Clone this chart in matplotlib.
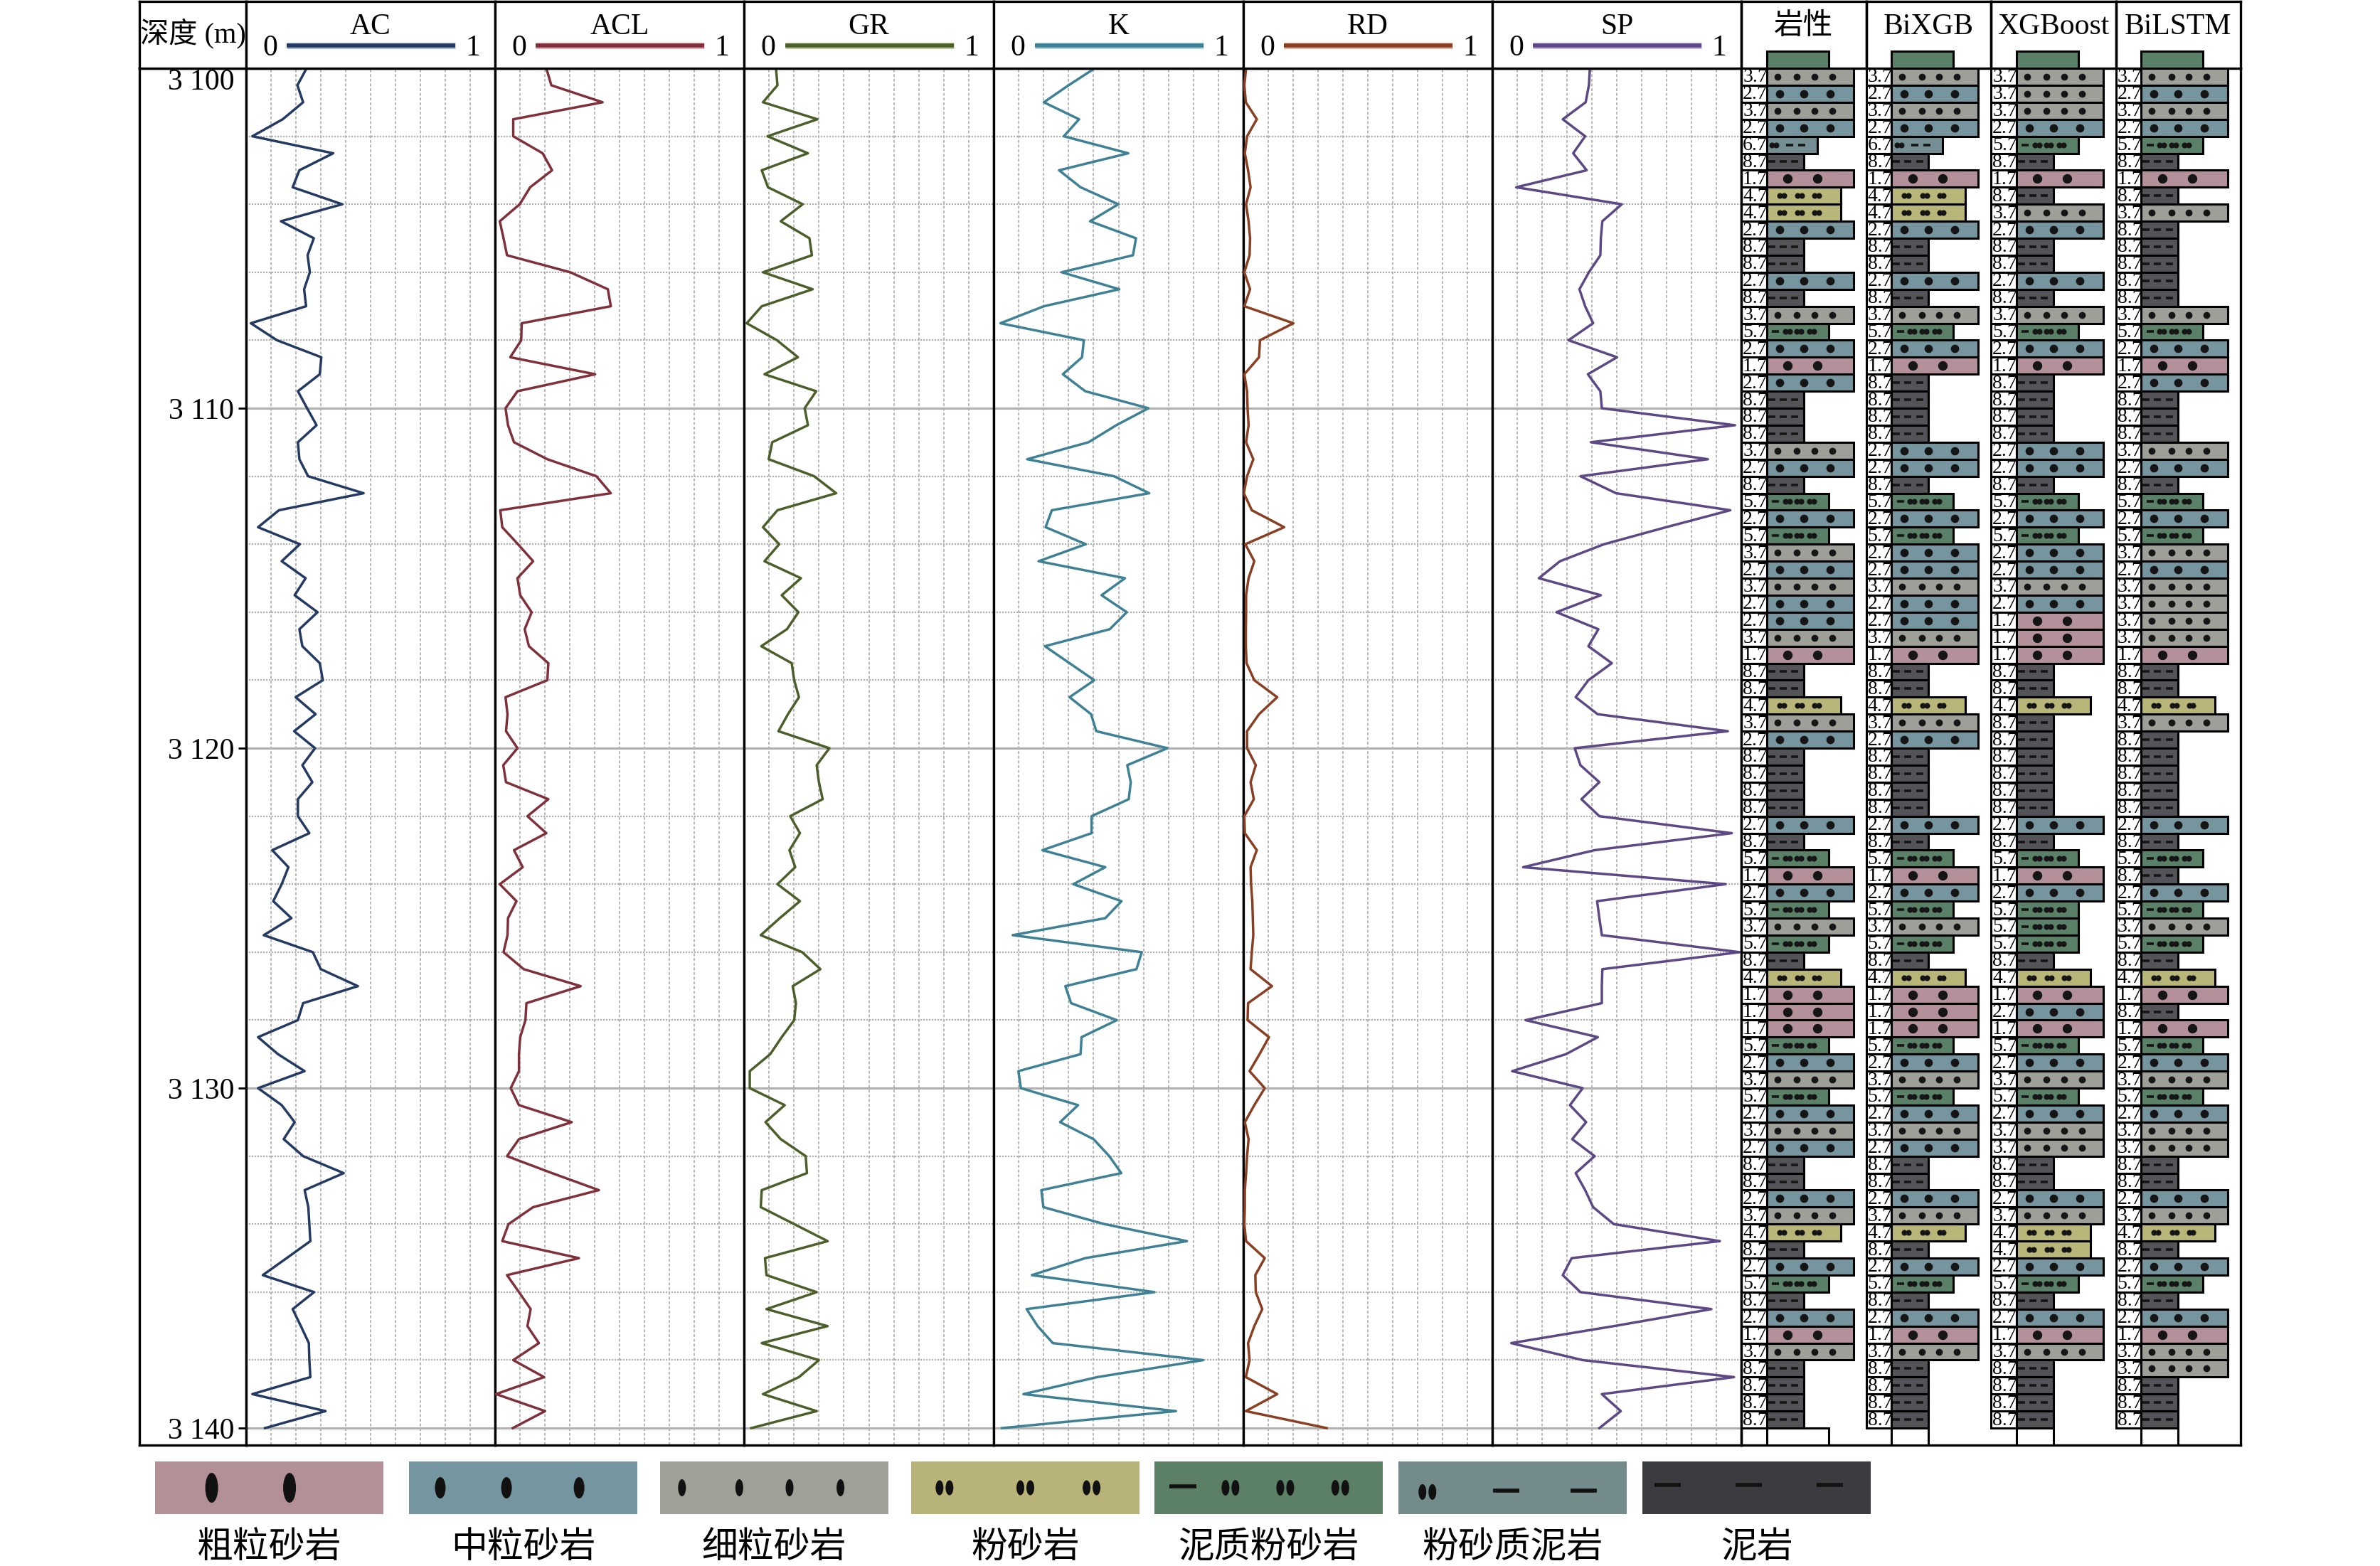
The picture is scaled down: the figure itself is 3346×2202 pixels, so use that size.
import numpy as np
import matplotlib.pyplot as plt
from matplotlib.patches import Rectangle, Ellipse
import matplotlib.patheffects as pe

plt.rcParams['font.family'] = ['Liberation Serif', 'Noto Sans CJK SC']

# log samples, every 0.5 m
depth = np.arange(3100.0, 3140.01, 0.5)

ac = [0.243, 0.206, 0.229, 0.147, 0.025, 0.350, 0.214, 0.187, 0.386, 0.140,
      0.272, 0.247, 0.256, 0.233, 0.241, 0.019, 0.124, 0.302, 0.296, 0.208,
      0.245, 0.283, 0.208, 0.214, 0.249, 0.472, 0.132, 0.048, 0.216, 0.143,
      0.239, 0.195, 0.287, 0.214, 0.226, 0.296, 0.308, 0.199, 0.279, 0.193,
      0.277, 0.226, 0.266, 0.208, 0.208, 0.254, 0.105, 0.170, 0.143, 0.109,
      0.182, 0.071, 0.268, 0.300, 0.449, 0.229, 0.208, 0.048, 0.128, 0.235,
      0.048, 0.143, 0.195, 0.151, 0.229, 0.392, 0.235, 0.250, 0.254, 0.258,
      0.163, 0.067, 0.273, 0.187, 0.220, 0.252, 0.254, 0.258, 0.025, 0.319,
      0.076]
acl = [0.206, 0.226, 0.432, 0.073, 0.073, 0.191, 0.229, 0.141, 0.099, 0.019,
       0.034, 0.048, 0.302, 0.453, 0.465, 0.107, 0.105, 0.061, 0.402, 0.090,
       0.042, 0.052, 0.076, 0.210, 0.407, 0.465, 0.021, 0.029, 0.092, 0.153,
       0.090, 0.101, 0.147, 0.119, 0.136, 0.214, 0.210, 0.042, 0.050, 0.044,
       0.090, 0.033, 0.044, 0.214, 0.130, 0.206, 0.076, 0.111, 0.019, 0.086,
       0.052, 0.050, 0.034, 0.115, 0.344, 0.126, 0.122, 0.101, 0.096, 0.096,
       0.063, 0.096, 0.308, 0.096, 0.048, 0.229, 0.417, 0.153, 0.054, 0.029,
       0.337, 0.048, 0.096, 0.143, 0.130, 0.176, 0.073, 0.197, 0.004, 0.201,
       0.071]
gr = [0.128, 0.134, 0.076, 0.294, 0.094, 0.256, 0.071, 0.096, 0.235, 0.147,
      0.262, 0.272, 0.076, 0.275, 0.071, 0.011, 0.132, 0.216, 0.082, 0.289,
      0.243, 0.256, 0.113, 0.099, 0.281, 0.369, 0.134, 0.076, 0.141, 0.082,
      0.228, 0.151, 0.218, 0.172, 0.069, 0.191, 0.201, 0.220, 0.176, 0.138,
      0.342, 0.291, 0.300, 0.315, 0.185, 0.224, 0.182, 0.205, 0.134, 0.224,
      0.143, 0.067, 0.233, 0.306, 0.195, 0.208, 0.201, 0.151, 0.105, 0.023,
      0.023, 0.163, 0.086, 0.147, 0.247, 0.252, 0.071, 0.067, 0.201, 0.335,
      0.084, 0.090, 0.291, 0.090, 0.335, 0.071, 0.300, 0.220, 0.076, 0.291,
      0.029]
k_log = [0.405, 0.300, 0.201, 0.342, 0.281, 0.539, 0.262, 0.348, 0.499, 0.386,
         0.570, 0.558, 0.272, 0.503, 0.201, 0.027, 0.361, 0.354, 0.277, 0.367,
         0.620, 0.491, 0.380, 0.134, 0.482, 0.623, 0.233, 0.208, 0.369, 0.180,
         0.526, 0.432, 0.533, 0.465, 0.205, 0.304, 0.403, 0.304, 0.390, 0.411,
         0.696, 0.535, 0.549, 0.541, 0.392, 0.392, 0.195, 0.447, 0.319, 0.512,
         0.447, 0.076, 0.593, 0.572, 0.287, 0.310, 0.493, 0.352, 0.348, 0.099,
         0.109, 0.338, 0.266, 0.400, 0.463, 0.511, 0.191, 0.199, 0.444, 0.774,
         0.367, 0.153, 0.644, 0.132, 0.176, 0.237, 0.839, 0.415, 0.119, 0.730,
         0.033]
rd = [0.011, 0.004, 0.010, 0.054, 0.015, 0.006, 0.019, 0.029, 0.011, 0.021,
      0.027, 0.025, 0.004, 0.027, 0.004, 0.201, 0.067, 0.063, 0.004, 0.015,
      0.017, 0.021, 0.011, 0.040, 0.015, 0.002, 0.034, 0.164, 0.008, 0.044,
      0.021, 0.011, 0.011, 0.010, 0.010, 0.013, 0.044, 0.136, 0.063, 0.015,
      0.015, 0.050, 0.029, 0.042, 0.004, 0.006, 0.054, 0.029, 0.031, 0.036,
      0.038, 0.040, 0.034, 0.029, 0.115, 0.019, 0.017, 0.103, 0.065, 0.025,
      0.086, 0.044, 0.006, 0.021, 0.015, 0.011, 0.006, 0.006, 0.004, 0.011,
      0.086, 0.048, 0.050, 0.076, 0.044, 0.019, 0.025, 0.010, 0.136, 0.010,
      0.335]
sp = [0.392, 0.388, 0.375, 0.283, 0.373, 0.325, 0.379, 0.096, 0.520, 0.442,
      0.436, 0.434, 0.388, 0.350, 0.373, 0.405, 0.306, 0.501, 0.384, 0.434,
      0.440, 0.975, 0.396, 0.866, 0.354, 0.497, 0.956, 0.698, 0.449, 0.272,
      0.187, 0.436, 0.258, 0.426, 0.386, 0.480, 0.386, 0.335, 0.423, 0.946,
      0.331, 0.354, 0.430, 0.358, 0.430, 0.962, 0.411, 0.124, 0.937, 0.421,
      0.430, 0.440, 0.994, 0.442, 0.440, 0.440, 0.134, 0.424, 0.296, 0.080,
      0.363, 0.312, 0.377, 0.321, 0.411, 0.335, 0.373, 0.405, 0.488, 0.914,
      0.319, 0.283, 0.354, 0.880, 0.488, 0.076, 0.363, 0.971, 0.440, 0.516,
      0.430]

# lithology codes per 0.5 m row, 3100-3140 m
lith_true = ['3.7', '2.7', '3.7', '2.7', '6.7', '8.7', '1.7', '4.7', '4.7', '2.7',
             '8.7', '8.7', '2.7', '8.7', '3.7', '5.7', '2.7', '1.7', '2.7', '8.7',
             '8.7', '8.7', '3.7', '2.7', '8.7', '5.7', '2.7', '5.7', '3.7', '2.7',
             '3.7', '2.7', '2.7', '3.7', '1.7', '8.7', '8.7', '4.7', '3.7', '2.7',
             '8.7', '8.7', '8.7', '8.7', '2.7', '8.7', '5.7', '1.7', '2.7', '5.7',
             '3.7', '5.7', '8.7', '4.7', '1.7', '1.7', '1.7', '5.7', '2.7', '3.7',
             '5.7', '2.7', '3.7', '2.7', '8.7', '8.7', '2.7', '3.7', '4.7', '8.7',
             '2.7', '5.7', '8.7', '2.7', '1.7', '3.7', '8.7', '8.7', '8.7', '8.7']
lith_bixgb = ['3.7', '2.7', '3.7', '2.7', '6.7', '8.7', '1.7', '4.7', '4.7', '2.7',
              '8.7', '8.7', '2.7', '8.7', '3.7', '5.7', '2.7', '1.7', '8.7', '8.7',
              '8.7', '8.7', '2.7', '2.7', '8.7', '5.7', '2.7', '5.7', '2.7', '2.7',
              '3.7', '2.7', '2.7', '3.7', '1.7', '8.7', '8.7', '4.7', '3.7', '2.7',
              '8.7', '8.7', '8.7', '8.7', '2.7', '8.7', '5.7', '1.7', '2.7', '5.7',
              '3.7', '5.7', '8.7', '4.7', '1.7', '1.7', '1.7', '5.7', '2.7', '3.7',
              '5.7', '2.7', '3.7', '2.7', '8.7', '8.7', '2.7', '3.7', '4.7', '8.7',
              '2.7', '5.7', '8.7', '2.7', '1.7', '3.7', '8.7', '8.7', '8.7', '8.7']
lith_xgboost = ['3.7', '3.7', '3.7', '2.7', '5.7', '8.7', '1.7', '8.7', '3.7', '2.7',
                '8.7', '8.7', '2.7', '8.7', '3.7', '5.7', '2.7', '1.7', '8.7', '8.7',
                '8.7', '8.7', '2.7', '2.7', '8.7', '5.7', '2.7', '5.7', '2.7', '2.7',
                '3.7', '2.7', '1.7', '1.7', '1.7', '8.7', '8.7', '4.7', '8.7', '8.7',
                '8.7', '8.7', '8.7', '8.7', '2.7', '8.7', '5.7', '1.7', '2.7', '5.7',
                '5.7', '5.7', '8.7', '4.7', '1.7', '2.7', '1.7', '5.7', '2.7', '3.7',
                '5.7', '2.7', '3.7', '3.7', '8.7', '8.7', '2.7', '3.7', '4.7', '4.7',
                '2.7', '5.7', '8.7', '2.7', '1.7', '3.7', '8.7', '8.7', '8.7', '8.7']
lith_bilstm = ['3.7', '2.7', '3.7', '2.7', '5.7', '8.7', '1.7', '8.7', '3.7', '8.7',
               '8.7', '8.7', '8.7', '8.7', '3.7', '5.7', '2.7', '1.7', '2.7', '8.7',
               '8.7', '8.7', '3.7', '2.7', '8.7', '5.7', '2.7', '5.7', '3.7', '2.7',
               '3.7', '3.7', '3.7', '3.7', '1.7', '8.7', '8.7', '4.7', '3.7', '8.7',
               '8.7', '8.7', '8.7', '8.7', '2.7', '8.7', '5.7', '8.7', '2.7', '5.7',
               '3.7', '5.7', '8.7', '4.7', '1.7', '8.7', '1.7', '5.7', '2.7', '3.7',
               '5.7', '2.7', '3.7', '3.7', '8.7', '8.7', '2.7', '3.7', '4.7', '8.7',
               '2.7', '5.7', '8.7', '2.7', '1.7', '3.7', '3.7', '8.7', '8.7', '8.7']

lith_codes = ['1.7', '2.7', '3.7', '4.7', '5.7', '6.7', '8.7']
lith_names = ['粗粒砂岩', '中粒砂岩', '细粒砂岩', '粉砂岩', '泥质粉砂岩', '粉砂质泥岩', '泥岩']
lith_colors = ['#b4919a', '#76959f', '#9e9f98', '#b9b67a', '#5a8067', '#748e93', '#545357']
legend_colors = ['#b39097', '#7596a0', '#9fa098', '#b8b479', '#5b8066', '#748b8b', '#3b3c40']
bar_end = [0.90, 0.90, 0.90, 0.795, 0.70, 0.61, 0.50]

col_titles = ['岩性', 'BiXGB', 'XGBoost', 'BiLSTM']
lith_cols = [lith_true, lith_bixgb, lith_xgboost, lith_bilstm]
tick_depths = [3100, 3110, 3120, 3130, 3140]
tick_labels = ['3 100', '3 110', '3 120', '3 130', '3 140']

curves = [('AC', ac, '#243a63', '#a7b4cc'),
          ('ACL', acl, '#80303a', '#e3a9b0'),
          ('GR', gr, '#4c5f2b', '#b9c89c'),
          ('K', k_log, '#3e8194', '#a9d3df'),
          ('RD', rd, '#8b3f22', '#dcb3a0'),
          ('SP', sp, '#5c4884', '#c0b4da')]

# ---- layout in pixels ----
W, H, DPI = 3346, 2202, 200
TOP, HEAD, BOT = 2, 96, 2032
edges = [196, 346, 696, 1046, 1397, 1748, 2098, 2448, 3150]
DTOP, DBOT = 3100.0, 3140.5
LW = 1.2
LABEL_W = 0.203

fig = plt.figure(figsize=(W / DPI, H / DPI), dpi=DPI)


def rect(x0, x1, y0, y1):
    return [x0 / W, 1 - y1 / H, (x1 - x0) / W, (y1 - y0) / H]


def clean(ax, lw=LW):
    ax.set_xticks([])
    ax.set_yticks([])
    for s in ax.spines.values():
        s.set_linewidth(lw)


# depth column
axd = fig.add_axes(rect(edges[0], edges[1], HEAD, BOT))
axd.set_ylim(DBOT, DTOP)
clean(axd)
hd = fig.add_axes(rect(edges[0], edges[1], TOP, HEAD))
clean(hd)
hd.text(0.5, 0.52, '深度 (m)', ha='center', va='center', fontsize=14.5, transform=hd.transAxes)

minor_depths = [d for d in range(3102, 3140, 2) if d % 10 != 0]
grid_x = [0.1, 0.2, 0.3, 0.4, 0.5, 0.6, 0.7, 0.8, 0.9]

track_axes = []
for i, (name, vals, color, halo) in enumerate(curves):
    x0, x1 = edges[i + 1], edges[i + 2]
    ax = fig.add_axes(rect(x0, x1, HEAD, BOT))
    ax.set_xlim(0, 1)
    ax.set_ylim(DBOT, DTOP)
    clean(ax)
    for gx in grid_x:
        ax.axvline(gx, color='#b8b8b8', lw=0.7, ls=(0, (2.0, 1.4)), zorder=1)
    for gd in minor_depths:
        ax.axhline(gd, color='#b0b0b0', lw=0.8, ls=(0, (1.0, 0.8)), zorder=1)
    for gd in tick_depths:
        ax.axhline(gd, color='#b0b0b0', lw=1.1, zorder=1)
    ax.plot(vals, depth, color=color, lw=1.25, zorder=3)
    track_axes.append(ax)

    hx = fig.add_axes(rect(x0, x1, TOP, HEAD))
    hx.set_xlim(0, 1)
    hx.set_ylim(0, 1)
    clean(hx)
    hx.text(0.5, 0.62, name, ha='center', va='center', fontsize=15)
    hx.text(0.096, 0.30, '0', ha='center', va='center', fontsize=15)
    hx.text(0.91, 0.30, '1', ha='center', va='center', fontsize=15)
    hx.plot([0.164, 0.84], [0.34, 0.34], color=color, lw=2.0, solid_capstyle='butt',
            path_effects=[pe.Stroke(linewidth=3.2, foreground=halo), pe.Normal()])

# depth labels on the first track
ax0 = track_axes[0]
ax0.set_yticks(tick_depths)
ax0.set_yticklabels(tick_labels, fontsize=15)
ax0.tick_params(axis='y', direction='out', length=4, width=1.0, pad=2)
ax0.get_yticklabels()[0].set_va('top')

# lithology columns
col_w = (edges[8] - edges[7]) / 4
for c, title in enumerate(col_titles):
    cx0 = edges[7] + c * col_w
    hx = fig.add_axes(rect(cx0, cx0 + col_w, TOP, HEAD))
    clean(hx)
    hx.patch.set_facecolor('none')
    hx.text(0.5, 0.62, title, ha='center', va='center', fontsize=15, transform=hx.transAxes)

axl = fig.add_axes(rect(edges[7], edges[8], HEAD, BOT))
axl.set_xlim(0, 4)
axl.set_ylim(DBOT, DTOP)
clean(axl)
axl.spines['top'].set_visible(False)
axl.patch.set_facecolor('none')

track_pat = {
    '1.7': [('big', [0.373, 0.61])],
    '2.7': [('mid', [0.305, 0.50, 0.712])],
    '3.7': [('small', [0.29, 0.447, 0.586, 0.727])],
    '4.7': [('pair', [0.323, 0.468, 0.604])],
    '5.7': [('dash', [0.276]), ('pair', [0.368, 0.463, 0.565])],
    '6.7': [('pair', [0.263]), ('dash', [0.389, 0.486])],
    '8.7': [('dash', [0.245, 0.334, 0.428])],
}
marker_style = {
    'big': dict(marker='o', ms=3.8),
    'mid': dict(marker='o', ms=3.2),
    'small': dict(marker='o', ms=2.5),
    'pair': dict(marker='o', ms=1.9),
    'dash': dict(marker='_', ms=3.6, mew=1.3),
}
pts = {k: ([], []) for k in marker_style}
bottom_end = [0.70, 0.50, 0.50, 0.50]

for c, seq in enumerate(lith_cols):
    # partial rows above the top and below the last labelled row
    axl.add_patch(Rectangle((c + LABEL_W, DTOP - 0.5), 0.70 - LABEL_W, 0.5, fc=lith_colors[4],
                            ec='black', lw=1.1, zorder=4, clip_on=False))
    axl.add_patch(Rectangle((c + LABEL_W, depth[-1]), bottom_end[c] - LABEL_W, 0.5, fc='white',
                            ec='black', lw=1.1, zorder=4))
    for i, code in enumerate(seq):
        top = depth[i]
        j = lith_codes.index(code)
        axl.add_patch(Rectangle((c, top), LABEL_W, 0.5, fc='white', ec='black', lw=1.1, zorder=2))
        axl.text(c + 0.012, top + 0.27, code, fontsize=10, ha='left', va='center', zorder=3)
        axl.add_patch(Rectangle((c + LABEL_W, top), bar_end[j] - LABEL_W, 0.5, fc=lith_colors[j],
                                ec='black', lw=1.1, zorder=4))
        for kind, xs in track_pat[code]:
            for x in xs:
                if kind == 'pair':
                    pts[kind][0].extend([c + x - 0.017, c + x + 0.017])
                    pts[kind][1].extend([top + 0.25, top + 0.25])
                else:
                    pts[kind][0].append(c + x)
                    pts[kind][1].append(top + 0.25)

for kind, (xs, ys) in pts.items():
    axl.plot(xs, ys, ls='none', color='#151515', mec='#151515', zorder=5, **marker_style[kind])

# legend strip
axg = fig.add_axes([0, 0, 1, 1 - 2040 / H])
axg.set_xlim(0, W)
axg.set_ylim(H, 2040)
axg.axis('off')

leg_x = [218, 575, 928, 1281, 1623, 1966, 2309]
LEG_W, LEG_Y0, LEG_Y1 = 321, 2055, 2129
legend_pat = {
    '1.7': [('ell', [0.248, 0.589], 18, 42, 0.5)],
    '2.7': [('ell', [0.137, 0.427, 0.745], 15, 30, 0.5)],
    '3.7': [('ell', [0.096, 0.347, 0.567, 0.79], 11, 24, 0.5)],
    '4.7': [('pair', [0.146, 0.50, 0.79], 11, 21, 0.5)],
    '5.7': [('dash', [0.124], 38, 0, 0.47), ('pair', [0.333, 0.573, 0.814], 11, 22, 0.5)],
    '6.7': [('pair', [0.127], 11, 22, 0.58), ('dash', [0.471, 0.811], 37, 0, 0.56)],
    '8.7': [('dash', [0.112, 0.465, 0.82], 37, 0, 0.45)],
}
for j, code in enumerate(lith_codes):
    x0 = leg_x[j]
    axg.add_patch(Rectangle((x0, LEG_Y0), LEG_W, LEG_Y1 - LEG_Y0, fc=legend_colors[j], ec='none'))
    for kind, xs, w, h, fy in legend_pat[code]:
        yc = LEG_Y0 + fy * (LEG_Y1 - LEG_Y0)
        for fx in xs:
            xc = x0 + fx * LEG_W
            if kind == 'ell':
                axg.add_patch(Ellipse((xc, yc), w, h, fc='#111111', ec='none'))
            elif kind == 'pair':
                for dx in (-7, 7):
                    axg.add_patch(Ellipse((xc + dx, yc), w, h, fc='#111111', ec='none'))
            else:
                axg.plot([xc - w / 2, xc + w / 2], [yc, yc], color='#111111', lw=2.0,
                         solid_capstyle='butt')
    axg.text(x0 + LEG_W / 2, 2178, lith_names[j], ha='center', va='center', fontsize=18.3)

fig.savefig('out.png', dpi=DPI)
